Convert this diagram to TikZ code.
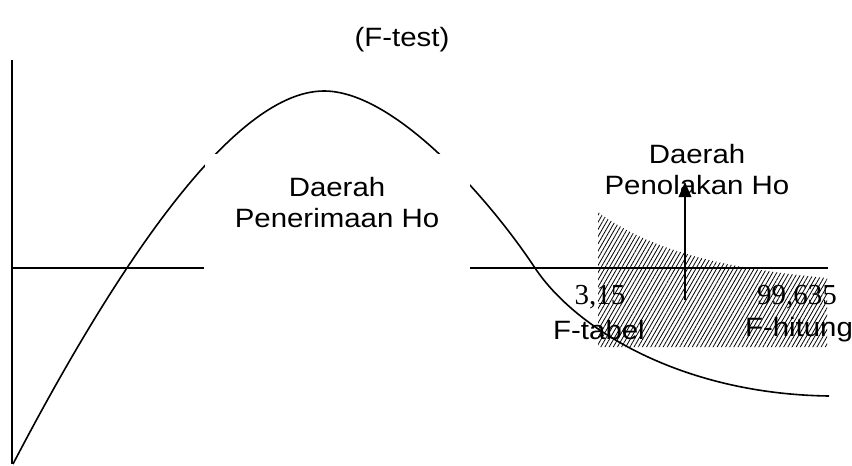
\documentclass[tikz,border=0pt]{standalone}
\usepackage{fontspec}
\setmainfont{Liberation Sans}
\newfontfamily\serifnum{Liberation Serif}
\usetikzlibrary{patterns.meta}
\begin{document}
\begin{tikzpicture}[x=1pt,y=-1pt,
  lbl/.style={font=\fontsize{26.5}{31}\selectfont, align=center, inner sep=0pt, xscale=1.11},
  num/.style={font=\serifnum\fontsize{29}{31}\selectfont, inner sep=0pt},
  curve/.style={line width=1.6pt},
  axis/.style={line width=1.6pt}]
\useasboundingbox (0,0) rectangle (852,466);
% hatched rejection region
\fill[pattern={Lines[angle=60,distance=3.6pt,line width=0.8pt]}]
  (598,212) .. controls (650,250) and (720,268) .. (827,278) -- (827,347) -- (598,347) -- cycle;
% axes
\coordinate (o) at (12,268);
\coordinate (ytop) at (12,60);
\coordinate (ybot) at (12,464);
\coordinate (xl) at (204,268);
\coordinate (xr0) at (470,268);
\coordinate (xr1) at (828,268);
\draw[axis] (ytop) -- (ybot);
\draw[axis] (o) -- (xl);
\draw[axis] (xr0) -- (xr1);
% curve
\coordinate (c0) at (13,464);
\coordinate (cpk) at (324,91);
\coordinate (cin) at (535,268);
\coordinate (cend) at (829,396);
\draw[curve] (c0) .. controls (105,288) and (228,91) .. (cpk)
  .. controls (395,91) and (490,200) .. (cin)
  .. controls (575,328) and (680,394) .. (cend);
% white mask behind acceptance label
\fill[white] (204.5,153.5) rectangle (469.5,275);
\node[lbl] (acc) at (337,203) {Daerah\\Penerimaan Ho};
% rejection label
\node[lbl] (rej) at (697,170) {Daerah\\Penolakan Ho};
% arrow
\coordinate (abot) at (685,300);
\coordinate (atop) at (685,182);
\coordinate (hl) at (678.5,197);
\coordinate (hr) at (691.5,197);
\draw[line width=1.4pt] (abot) -- (685,195);
\fill[black] (atop) -- (hl) -- (hr) -- cycle;
% numbers
\node[num] (ft) at (600,297) {3,15};
\node[num] (fh) at (797,297) {99,635};
\node[lbl] (ftl) at (599,330) {F-tabel};
\node[lbl] (fhl) at (799,330) {F-hitung};
% title
\node[lbl] (title) at (402,40) {(F-test)};
\end{tikzpicture}
\end{document}
